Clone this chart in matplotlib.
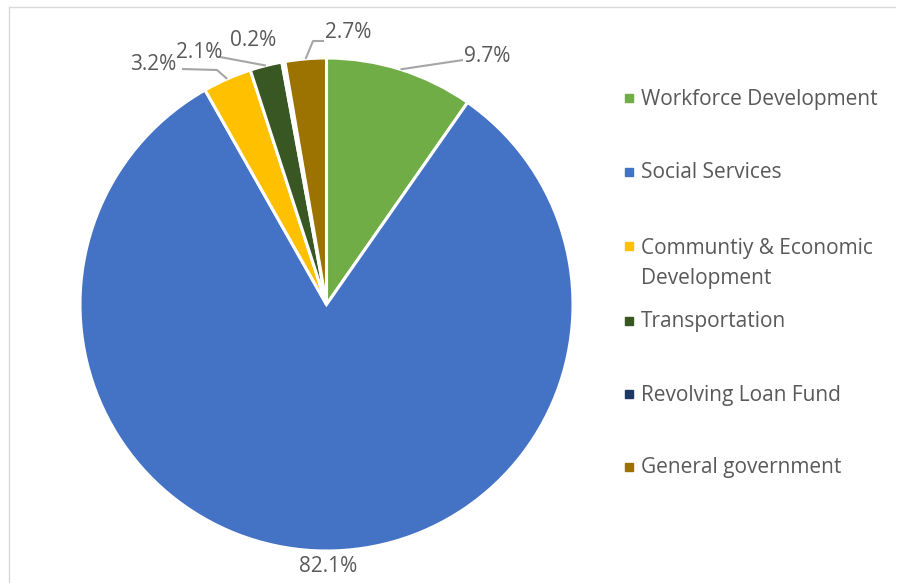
import matplotlib
matplotlib.use("Agg")
import matplotlib.pyplot as plt
import numpy as np
from matplotlib.lines import Line2D
from matplotlib.patches import Rectangle

# -----------------------------
# DATA
# -----------------------------
categories = ["Workforce Development", "Social Services",
              "Communtiy & Economic\nDevelopment", "Transportation",
              "Revolving Loan Fund", "General government"]
shares = [9.7, 82.1, 3.2, 2.1, 0.2, 2.7]
colors = ["#70AD47", "#4472C4", "#FFC000", "#385723", "#1F3864", "#9C7200"]

# -----------------------------
# LAYOUT (pixels)
# -----------------------------
W, H = 898, 583
CX, CY, R = 326.5, 304.5, 246.5
FONT = "Open Sans"
FS = 15
TXT = "#595959"
LINE = "#A6A6A6"

# label text anchor (px), ha, elbow points of the leader line (px)
label_style = [
    ((464, 57), "left", [(463, 60)]),
    ((328, 566), "center", None),
    ((176, 64), "right", [(217, 70), (182, 69)]),
    ((222, 52), "right", [(220, 57)]),
    ((253, 41), "center", None),
    ((325, 33), "left", [(313, 41), (324, 41)]),
]
legend_y = [98, 172, 246, 321, 394, 467]

fig = plt.figure(figsize=(W / 100, H / 100), dpi=100)
ax = fig.add_axes([(CX - R) / W, (H - CY - R) / H, 2 * R / W, 2 * R / H])


def px(x, y):
    return (x - CX) / R, (CY - y) / R


wedges, _ = ax.pie(shares, colors=colors, startangle=90, counterclock=False,
                   radius=1, wedgeprops=dict(edgecolor="white", linewidth=2.2))
ax.set_xlim(-1, 1)
ax.set_ylim(-1, 1)
ax.axis("off")

for w, val, (pos, ha, elbow) in zip(wedges, shares, label_style):
    ang = np.deg2rad((w.theta1 + w.theta2) / 2)
    tx, ty = px(*pos)
    ax.text(tx, ty, f"{val:.1f}%", ha=ha, va="center", fontsize=FS,
            family=FONT, color=TXT, clip_on=False)
    if elbow:
        pts = [(np.cos(ang), np.sin(ang))] + [px(*p) for p in elbow]
        xs, ys = zip(*pts)
        ax.plot(xs, ys, color=LINE, lw=1.5, clip_on=False,
                solid_capstyle="butt")

# legend drawn by hand so the two-line entry lines up like the original
for name, col, y in zip(categories, colors, legend_y):
    fig.patches.append(Rectangle((625 / W, 1 - (y + 4) / H), 8 / W, 8 / H,
                                 transform=fig.transFigure, color=col))
    if "\n" in name:
        fig.text(641 / W, 1 - (y - 8) / H, name, ha="left", va="top",
                 fontsize=FS, family=FONT, color=TXT, linespacing=1.58)
    else:
        fig.text(641 / W, 1 - (y + 1) / H, name, ha="left", va="center",
                 fontsize=FS, family=FONT, color=TXT)

# faint frame edges seen in the reference
fig.lines.append(Line2D([9 / W, 9 / W], [0, 1 - 7 / H], transform=fig.transFigure,
                        color="#D9D9D9", lw=1))
fig.lines.append(Line2D([9 / W, 895 / W], [1 - 7 / H, 1 - 7 / H],
                        transform=fig.transFigure, color="#D9D9D9", lw=1))

fig.savefig("out.png", dpi=100, facecolor="white")
